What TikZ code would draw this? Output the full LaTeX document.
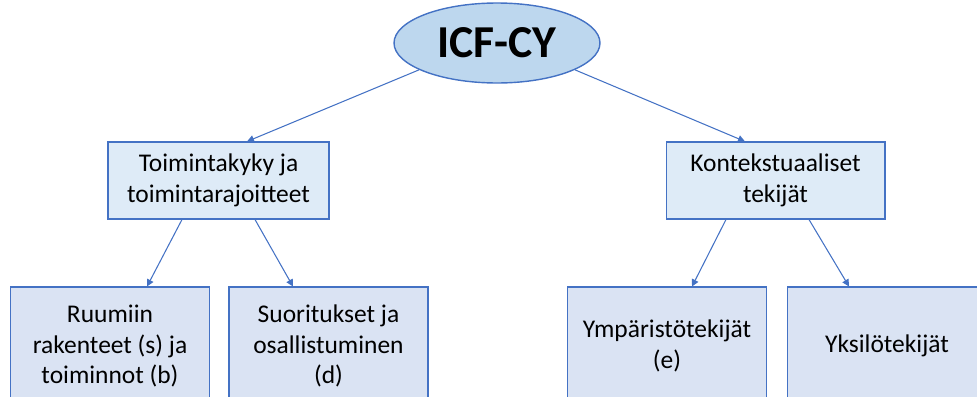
\documentclass[tikz,border=0pt]{standalone}
\usepackage{fontspec}
\setmainfont{Carlito}
\usepackage{xcolor}
\usetikzlibrary{shapes.geometric, positioning, arrows.meta, calc}

\definecolor{edgeblue}{HTML}{4472C4}
\definecolor{ovalfill}{HTML}{BDD7EE}
\definecolor{midfill}{HTML}{DEEBF7}
\definecolor{lowfill}{HTML}{DAE3F3}

\begin{document}
\begin{tikzpicture}[
    x=0.02cm, y=-0.02cm,
    root/.style={draw=edgeblue, line width=0.8pt, ellipse, minimum width=4.12cm, minimum height=1.6cm, inner sep=0pt, fill=ovalfill, font=\fontsize{26}{30}\selectfont\bfseries},
    midbox/.style={draw=edgeblue, line width=0.6pt, rectangle, minimum height=1.54cm, align=center, fill=midfill, font=\fontsize{14.5}{17.5}\selectfont},
    lowbox/.style={draw=edgeblue, line width=0.6pt, rectangle, minimum width=3.98cm, minimum height=2.36cm, align=center, fill=lowfill, font=\fontsize{14.5}{17.5}\selectfont},
    link/.style={draw=edgeblue, line width=0.6pt, -{Triangle[length=4pt,width=4pt]}}
]
    \clip (0,0) rectangle (977,396);

    % Root
    \node[root] (ICF) at (497, 43) {ICF-CY};

    % Second level
    \node[midbox, minimum width=4.42cm] (TOIM) at (218.5, 180.5) {Toimintakyky ja\\toimintarajoitteet};
    \node[midbox, minimum width=4.38cm] (KONT) at (775.5, 180.5) {Kontekstuaaliset\\tekijät};

    % Third level
    \node[lowbox] (RUUM) at (110, 346) {Ruumiin\\rakenteet (s) ja\\toiminnot (b)};
    \node[lowbox] (SUOR) at (328.5, 346) {Suoritukset ja\\osallistuminen\\(d)};
    \node[lowbox] (YMPA) at (667, 346) {Ympäristötekijät\\(e)};
    \node[lowbox] (YKSI) at (887, 346) {Yksilötekijät};

    % Links
    \draw[link] (ICF.199) -- ([xshift=0.57cm]TOIM.north);
    \draw[link] (ICF.341) -- ([xshift=-0.61cm]KONT.north);

    \draw[link] ([xshift=-0.73cm]TOIM.south) -- ([xshift=0.74cm]RUUM.north);
    \draw[link] ([xshift=0.73cm]TOIM.south) -- ([xshift=-0.71cm]SUOR.north);

    \draw[link] ([xshift=-0.99cm]KONT.south) -- ([xshift=0.5cm]YMPA.north);
    \draw[link] ([xshift=0.67cm]KONT.south) -- ([xshift=-0.76cm]YKSI.north);

\end{tikzpicture}
\end{document}
